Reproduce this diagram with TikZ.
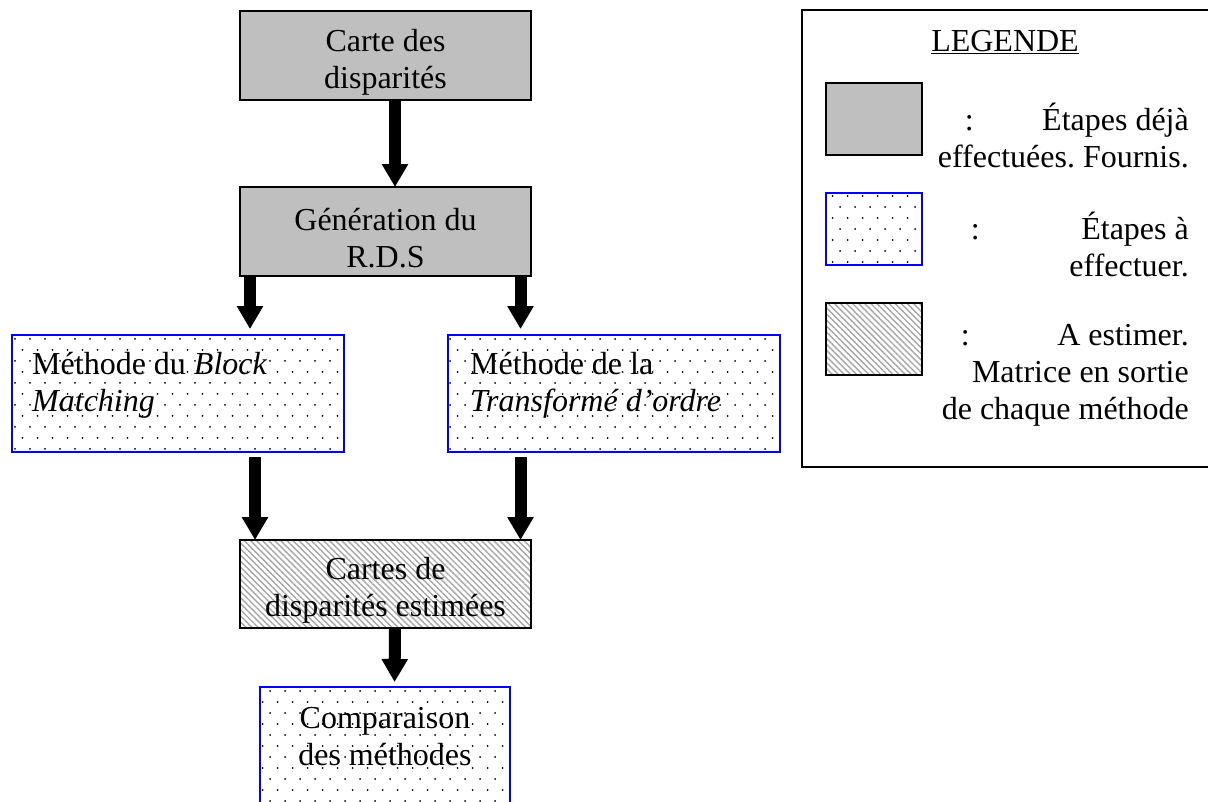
\documentclass[tikz,border=0pt]{standalone}
\usepackage{fontspec}
\setmainfont{Liberation Serif}
\usetikzlibrary{arrows.meta,patterns,patterns.meta}
\frenchspacing

% trame pointillee des etapes a effectuer
\pgfdeclarepatternformonly{pointille}{\pgfqpoint{-1pt}{-1pt}}{\pgfqpoint{14pt}{21pt}}{\pgfqpoint{15pt}{22pt}}{%
  \pgfpathcircle{\pgfqpoint{0pt}{0pt}}{1pt}%
  \pgfpathcircle{\pgfqpoint{7.5pt}{11pt}}{1pt}%
  \pgfusepath{fill}}

\begin{document}
\begin{tikzpicture}[x=1pt, y=-1pt,
  box/.style={inner sep=0pt, outer sep=0pt, line width=2pt},
  fourni/.style={box, draw=black, fill=gray!50},
  afaire/.style={box, draw=blue, pattern=pointille, pattern color=black},
  estime/.style={box, draw=black, pattern={Lines[angle=-45,distance=4.3pt,line width=1.4pt]}, pattern color=gray!70},
  txt/.style={font=\fontsize{32}{37}\selectfont, align=center, inner sep=0pt},
  fleche/.style={line width=12pt, -{Triangle[length=23pt,width=25pt]}},
]
\useasboundingbox (0,0) rectangle (1208,801);

% etapes
\node[fourni, minimum width=291pt, minimum height=89pt]  (carte)  at (385.5,55.5)  {};
\node[fourni, minimum width=291pt, minimum height=89pt]  (rds)    at (385.5,231.5) {};
\node[afaire, minimum width=332pt, minimum height=117pt] (bm)     at (178,393.5)   {};
\node[afaire, minimum width=332pt, minimum height=117pt] (ordre)  at (614,393.5)   {};
\node[estime, minimum width=291pt, minimum height=88pt]  (estim)  at (385.5,584)   {};
\node[afaire, minimum width=250pt, minimum height=143pt] (compar) at (385,758.5)   {};

\node[txt] (carte-txt)  at (385.5,62)  {Carte des\\disparités};
\node[txt] (rds-txt)    at (385.5,238) {Génération du\\R.D.S};
\node[txt, align=left, anchor=west] (bm-txt)    at (32,385)  {Méthode du \textit{Block}\\\textit{Matching}};
\node[txt, align=left, anchor=west] (ordre-txt) at (470,385) {Méthode de la\\\textit{Transformé d’ordre}};
\node[txt] (estim-txt)  at (385.5,590) {Cartes de\\disparités estimées};
\node[txt] (compar-txt) at (385,737)   {Comparaison\\des méthodes};

% fleches
\coordinate (d1) at ([xshift=10pt]rds.south west);
\coordinate (d2) at ([xshift=-10.5pt]rds.south east);
\coordinate (d3) at ([xshift=15pt]estim.north west);
\coordinate (d4) at ([xshift=-10.5pt]estim.north east);
\draw[fleche] ([xshift=9.5pt]carte.south) -- ([xshift=9.5pt]rds.north);
\draw[fleche, shorten >=6pt] (d1) -- (d1 |- bm.north);
\draw[fleche, shorten >=6pt] (d2) -- (d2 |- ordre.north);
\draw[fleche, shorten <=5pt] (d3 |- bm.south) -- (d3);
\draw[fleche, shorten <=5pt] (d4 |- ordre.south) -- (d4);
\draw[fleche, shorten >=5pt] ([xshift=9.5pt]estim.south) -- ([xshift=9.5pt]compar.north);

% Legende
\node[box, draw=black, minimum width=428pt, minimum height=457pt] (legende) at (1016,238.5) {};
\node[txt] (legende-titre) at (1005,42) {\underline{LEGENDE}};
\node[fourni, minimum width=96pt, minimum height=72pt] (ech1) at (874,118.5) {};
\node[afaire, minimum width=96pt, minimum height=72pt] (ech2) at (874,229)   {};
\node[estime, minimum width=96pt, minimum height=72pt] (ech3) at (874,339)   {};
\node[txt, align=right, anchor=east] (leg1) at (1189,135) {\makebox[224pt][l]{:\hfill Étapes déjà}\\effectuées. Fournis.};
\node[txt, align=right, anchor=east] (leg2) at (1189,244.5) {\makebox[218pt][l]{:\hfill Étapes à}\\effectuer.};
\node[txt, align=right, anchor=east] (leg3) at (1189,375)   {\makebox[228pt][l]{:\hfill A estimer.}\\Matrice en sortie\\de chaque méthode};
\end{tikzpicture}
\end{document}
